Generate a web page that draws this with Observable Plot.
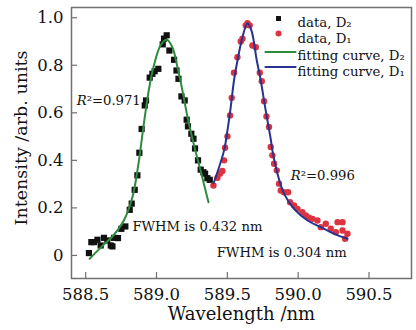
<!DOCTYPE html>
<html><head><meta charset="utf-8">
<script src="https://cdn.jsdelivr.net/npm/d3@7"></script>
<script src="https://cdn.jsdelivr.net/npm/@observablehq/plot@0.6"></script>
<style>
html,body{margin:0;padding:0;background:#fff;}
#chart{width:416px;height:330px;}
</style>
</head><body><div id="chart"></div>
<script>
// ---- data ----
const d2Wavelength = [588.523,588.540,588.559,588.583,588.606,588.629,588.653,588.677,588.689,588.700,588.728,588.752,588.780,588.811,588.825,588.846,588.865,588.879,588.895,588.917,588.926,588.952,588.971,588.987,589.013,589.044,589.053,589.072,589.091,589.124,589.141,589.155,589.176,589.199,589.213,589.222,589.246,589.261,589.272,589.293,589.312,589.331,589.343,589.359,589.376];
const d2Intensity  = [0.010,0.056,0.056,0.066,0.042,0.074,0.063,0.042,0.038,0.074,0.073,0.112,0.122,0.192,0.218,0.276,0.337,0.432,0.532,0.631,0.652,0.748,0.764,0.775,0.785,0.888,0.912,0.926,0.862,0.823,0.778,0.743,0.669,0.652,0.571,0.543,0.512,0.491,0.450,0.400,0.361,0.350,0.344,0.325,0.318];

const d1Wavelength = [589.402,589.430,589.448,589.465,589.477,589.484,589.501,589.519,589.531,589.547,589.571,589.595,589.607,589.630,589.642,589.658,589.677,589.701,589.729,589.743,589.759,589.776,589.794,589.806,589.818,589.830,589.849,589.865,589.877,589.900,589.929,589.943,589.971,589.995,590.030,590.054,590.077,590.101,590.136,590.160,590.195,590.230,590.266,590.278,590.313,590.313,590.331,590.348];
const d1Intensity  = [0.294,0.327,0.344,0.355,0.400,0.453,0.501,0.589,0.663,0.769,0.834,0.900,0.912,0.968,0.977,0.968,0.883,0.876,0.769,0.733,0.649,0.585,0.540,0.456,0.421,0.386,0.358,0.302,0.273,0.266,0.266,0.224,0.210,0.196,0.182,0.168,0.159,0.154,0.147,0.119,0.133,0.112,0.098,0.140,0.140,0.105,0.070,0.091];

const fit2Wavelength = [588.528,588.606,588.700,588.770,588.830,588.870,588.912,588.947,588.982,589.030,589.072,589.112,589.148,589.183,589.218,589.265,589.312,589.367];
const fit2Intensity  = [-0.014,0.033,0.087,0.148,0.245,0.375,0.560,0.700,0.800,0.885,0.907,0.876,0.792,0.694,0.585,0.463,0.355,0.224];

const fit1Wavelength = [589.402,589.418,589.477,589.501,589.524,589.547,589.576,589.607,589.642,589.670,589.708,589.736,589.759,589.787,589.806,589.818,589.854,589.900,589.971,590.066,590.160,590.254,590.348];
const fit1Intensity  = [0.303,0.329,0.442,0.526,0.624,0.736,0.834,0.918,0.977,0.947,0.820,0.736,0.652,0.554,0.491,0.442,0.344,0.260,0.196,0.147,0.119,0.091,0.070];

const xTicks = [588.5, 589.0, 589.5, 590.0, 590.5];
const yTicks = [0, 0.2, 0.4, 0.6, 0.8, 1.0];
const legendLabels = ["data, D\u2082", "data, D\u2081", "fitting curve, D\u2082", "fitting curve, D\u2081"];
const r2Labels = ["0.971", "0.996"];
const fwhmLabels = ["FWHM is 0.432 nm", "FWHM is 0.304 nm"];
const xLabel = "Wavelength /nm";
const yLabel = "Intensity /arb. units";

// ---- tables ----
const d2 = d2Wavelength.map((x, i) => ({x, y: d2Intensity[i]}));
const d1 = d1Wavelength.map((x, i) => ({x, y: d1Intensity[i]}));
const fit2 = fit2Wavelength.map((x, i) => ({x, y: fit2Intensity[i]}));
const fit1 = fit1Wavelength.map((x, i) => ({x, y: fit1Intensity[i]}));

const FONT = "DejaVu Serif";
const GREEN = "#2e8a3c", BLUE = "#28338f", RED = "#dc3340";
const lineShape = {draw(context, l) { context.moveTo(0, 0); context.lineTo(0, -l); }};

const legendText = (i, dy) => Plot.text([legendLabels[i]], {frameAnchor: "top-right", dx: -114, dy, textAnchor: "start", fontSize: 13.3, fontFamily: FONT, fill: "#111"});

const chart = Plot.plot({
  width: 416, height: 330,
  marginLeft: 71, marginRight: 5, marginTop: 7, marginBottom: 52,
  style: {fontFamily: FONT, fontSize: "16.5px", color: "#111", background: "#fff"},
  x: {domain: [588.40, 590.80]},
  y: {domain: [-0.097, 1.043]},
  marks: [
    Plot.frame({stroke: "#707070", strokeWidth: 1.5}),
    Plot.axisY(yTicks, {tickSize: -6, tickPadding: 14, stroke: "#707070", strokeWidth: 1.2, fontSize: 16.5, fill: "#111", tickFormat: d => d === 0 ? "0" : d.toFixed(1), label: null}),
    Plot.axisX(xTicks, {tickSize: -6, tickPadding: 16, stroke: "#707070", strokeWidth: 1.2, fontSize: 16.5, fill: "#111", tickFormat: d => d.toFixed(1), label: null}),
    Plot.text([xLabel], {frameAnchor: "bottom", dy: 29, lineAnchor: "top", fontSize: 18, fontFamily: FONT, fill: "#111"}),
    Plot.text([yLabel], {frameAnchor: "left", textAnchor: "middle", dx: -50, dy: -5, rotate: -90, fontSize: 17.5, fontFamily: FONT, fill: "#111"}),
    Plot.dot(d2, {x: "x", y: "y", symbol: "square", r: 3.5, fill: "#111"}),
    Plot.dot(d1, {x: "x", y: "y", r: 3.2, fill: RED}),
    Plot.line(fit2, {x: "x", y: "y", stroke: GREEN, strokeWidth: 2, curve: "catmull-rom"}),
    Plot.line(fit1, {x: "x", y: "y", stroke: BLUE, strokeWidth: 2, curve: "catmull-rom"}),
    // annotations
    Plot.text(["R"], {x: 588.507, y: 0.652, textAnchor: "end", fontStyle: "italic", fontSize: 13.2, fontFamily: FONT, fill: "#111"}),
    Plot.text(["\u00B2=" + r2Labels[0]], {x: 588.507, y: 0.652, textAnchor: "start", fontSize: 13.2, fontFamily: FONT, fill: "#111"}),
    Plot.text(["R"], {x: 590.018, y: 0.337, textAnchor: "end", fontStyle: "italic", fontSize: 13.2, fontFamily: FONT, fill: "#111"}),
    Plot.text(["\u00B2=" + r2Labels[1]], {x: 590.018, y: 0.337, textAnchor: "start", fontSize: 13.2, fontFamily: FONT, fill: "#111"}),
    Plot.text([fwhmLabels[0]], {x: 588.830, y: 0.119, textAnchor: "start", fontSize: 13.2, fontFamily: FONT, fill: "#111"}),
    Plot.text([fwhmLabels[1]], {x: 589.425, y: 0.013, textAnchor: "start", fontSize: 13.2, fontFamily: FONT, fill: "#111"}),
    // legend
    Plot.dot([legendLabels[0]], {frameAnchor: "top-right", dx: -133, dy: 11, symbol: "square", r: 2.8, fill: "#111"}),
    Plot.dot([legendLabels[1]], {frameAnchor: "top-right", dx: -133, dy: 26, r: 3, fill: RED}),
    Plot.vector([legendLabels[2]], {frameAnchor: "top-right", dx: -146, dy: 44.5, length: 30, rotate: 90, anchor: "start", shape: lineShape, stroke: GREEN, strokeWidth: 2.2}),
    Plot.vector([legendLabels[3]], {frameAnchor: "top-right", dx: -146, dy: 59.5, length: 30, rotate: 90, anchor: "start", shape: lineShape, stroke: BLUE, strokeWidth: 2.2}),
    legendText(0, 10),
    legendText(1, 26),
    legendText(2, 43),
    legendText(3, 59)
  ]
});
document.getElementById("chart").appendChild(chart);
</script>
</body></html>
